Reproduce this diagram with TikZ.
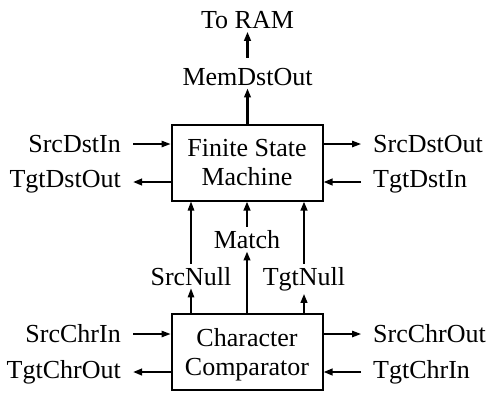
\documentclass[tikz,border=0pt]{standalone}
\usepackage{fontspec}
\setmainfont{Liberation Serif}
\usetikzlibrary{arrows.meta}

\tikzset{
  sig/.style={font=\fontsize{26}{29}\selectfont},
  block/.style={draw, line width=2pt, minimum width=151pt, minimum height=76pt,
    inner sep=0pt, align=center, text depth=0pt, sig},
  inlbl/.style={sig, anchor=east, inner xsep=12pt, inner ysep=0pt},
  outlbl/.style={sig, anchor=west, inner xsep=12pt, inner ysep=0pt},
  vlbl/.style={sig, anchor=base, inner sep=3pt},
  thinsig/.style={line width=1.3pt, -{Triangle[length=9pt,width=6.5pt]}},
  thicksig/.style={line width=2.2pt, -{Triangle[length=9pt,width=6.5pt]}}
}

\begin{document}
\begin{tikzpicture}[x=1pt,y=-1pt]
  \useasboundingbox (0,0) rectangle (487,392);

  % the two blocks
  \node[block] (fsm) at (247,162.5) {Finite State\\Machine};
  \node[block] (cmp) at (247,351.5) {Character\\Comparator};

  % side signals of the state machine
  \node[inlbl]  (srcdstin)  at (133,144) {SrcDstIn};
  \node[inlbl]  (tgtdstout) at (133,182) {TgtDstOut};
  \node[outlbl] (srcdstout) at (361,144) {SrcDstOut};
  \node[outlbl] (tgtdstin)  at (361,182) {TgtDstIn};

  % side signals of the comparator
  \node[inlbl]  (srcchrin)  at (133,334) {SrcChrIn};
  \node[inlbl]  (tgtchrout) at (133,372) {TgtChrOut};
  \node[outlbl] (srcchrout) at (361,334) {SrcChrOut};
  \node[outlbl] (tgtchrin)  at (361,372) {TgtChrIn};

  % vertical signals
  \node[vlbl] (toram)  at (247.5,28.3) {To RAM};
  \node[vlbl] (memdst) at (247.5,85)   {MemDstOut};
  \node[vlbl] (match)  at (247,248)    {Match};
  \node[vlbl] (srcnull) at (191,285)   {SrcNull};
  \node[vlbl] (tgtnull) at (304,285)   {TgtNull};

  % horizontal connectors
  \draw[thinsig]  (srcdstin.east) -- (srcdstin.east -| fsm.west);
  \draw[thicksig] (tgtdstout.east -| fsm.west) -- (tgtdstout.east);
  \draw[thinsig]  (srcdstout.west -| fsm.east) -- (srcdstout.west);
  \draw[thicksig] (tgtdstin.west) -- (tgtdstin.west -| fsm.east);

  \draw[thinsig]  (srcchrin.east) -- (srcchrin.east -| cmp.west);
  \draw[thicksig] (tgtchrout.east -| cmp.west) -- (tgtchrout.east);
  \draw[thinsig]  (srcchrout.west -| cmp.east) -- (srcchrout.west);
  \draw[thicksig] (tgtchrin.west) -- (tgtchrin.west -| cmp.east);

  % memory output
  \draw[thicksig] (fsm.north -| memdst.south) -- (memdst.south);
  \draw[thicksig, shorten <=7pt] (memdst.north) -- (toram.south);

  % comparator to state machine
  \draw[thinsig]  (srcnull.south |- cmp.north) -- (srcnull.south);
  \draw[thinsig]  (srcnull.north) -- (srcnull.north |- fsm.south);
  \draw[thicksig] (match.south |- cmp.north) -- (match.south);
  \draw[thicksig] (match.north) -- (match.north |- fsm.south);
  \draw[thicksig] (tgtnull.south |- cmp.north) -- (tgtnull.south);
  \draw[thicksig] (tgtnull.north) -- (tgtnull.north |- fsm.south);
\end{tikzpicture}
\end{document}
